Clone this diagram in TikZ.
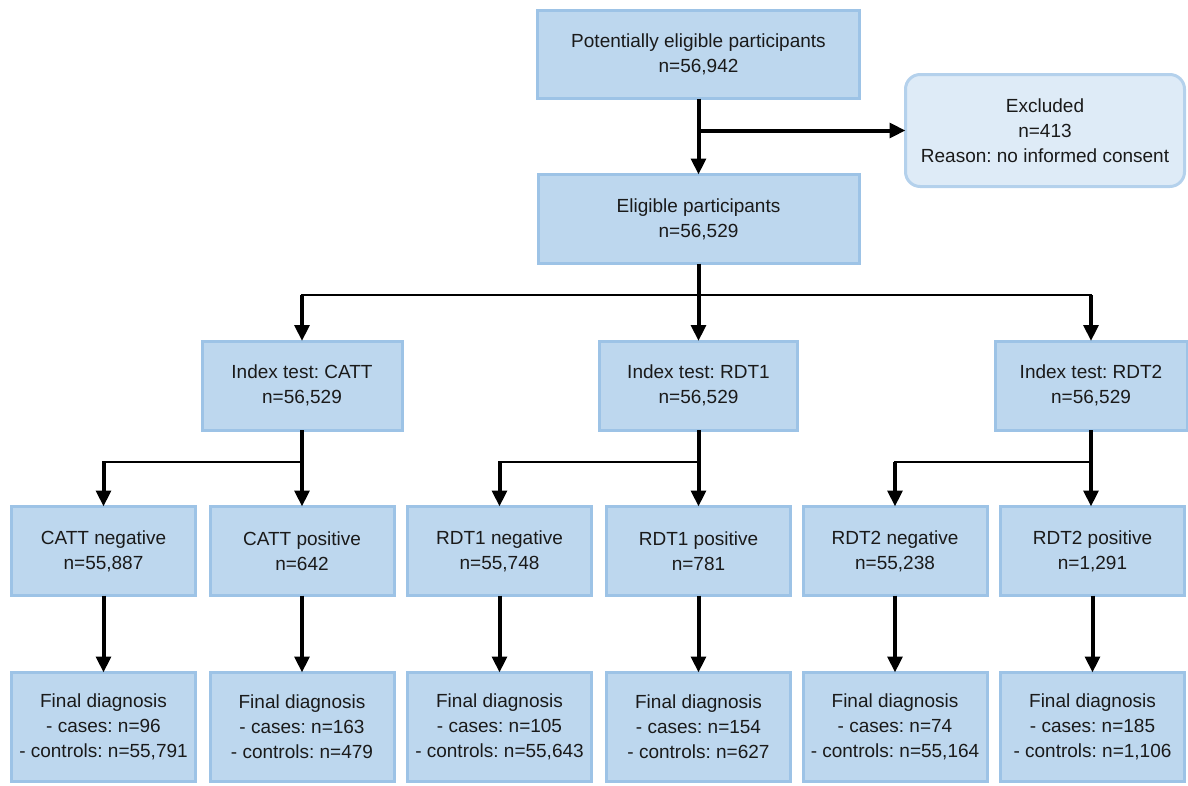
\documentclass[tikz,border=0pt]{standalone}
\usepackage{fontspec}
\setmainfont{Liberation Sans}
\usetikzlibrary{arrows.meta}
\definecolor{boxfill}{HTML}{BDD7EE}
\definecolor{boxline}{HTML}{9DC3E6}
\definecolor{exfill}{HTML}{DEEBF7}
\definecolor{exline}{HTML}{B4D1EC}
\definecolor{ink}{HTML}{1A1A1A}
\frenchspacing
\begin{document}
\begin{tikzpicture}[x=0.75pt,y=-0.75pt,
  every node/.style={font=\fontsize{14.25pt}{18.75pt}\selectfont, text=ink,
    align=center, inner sep=0pt, outer sep=0pt},
  stagebox/.style={draw=boxline, fill=boxfill, line width=2.25pt},
  exbox/.style={draw=exline, fill=exfill, line width=2.25pt, rounded corners=11pt},
  stem/.style={line width=3pt, -{Triangle[length=12pt,width=11pt]}},
  bar/.style={line width=1.6pt, line cap=rect}]
\useasboundingbox (0,0) rectangle (1188,785);

% enrolment
\node[stagebox, minimum width=322*0.75pt, minimum height=88*0.75pt] (top) at (698.5,54.5)
  {Potentially eligible participants\\n=56,942};
\node[exbox, minimum width=279*0.75pt, minimum height=112*0.75pt] (excl) at (1045,130.5)
  {Excluded\\n=413\\Reason: no informed consent};
\node[stagebox, minimum width=321*0.75pt, minimum height=89*0.75pt] (elig) at (698.5,219)
  {Eligible participants\\n=56,529};

% index tests
\node[stagebox, minimum width=200*0.75pt, minimum height=89*0.75pt] (catt) at (302,385.5)
  {Index test: CATT\\n=56,529};
\node[stagebox, minimum width=198*0.75pt, minimum height=89*0.75pt] (rdt1) at (698.5,385.5)
  {Index test: RDT1\\n=56,529};
\node[stagebox, minimum width=192*0.75pt, minimum height=89*0.75pt] (rdt2) at (1091,385.5)
  {Index test: RDT2\\n=56,529};

% test results
\foreach \nm/\cx/\txt in {cattneg/103.5/{CATT negative\\n=55,887},
                          cattpos/302/{CATT positive\\n=642},
                          rdt1neg/499.5/{RDT1 negative\\n=55,748},
                          rdt1pos/698.5/{RDT1 positive\\n=781},
                          rdt2neg/895/{RDT2 negative\\n=55,238},
                          rdt2pos/1092.5/{RDT2 positive\\n=1,291}}
  \node[stagebox, minimum width=184*0.75pt, minimum height=89*0.75pt] (\nm) at (\cx,551) {\txt};

% final diagnosis
\foreach \nm/\cx/\cs/\ct in {cattnegdx/103.5/96/{55,791},
                             cattposdx/302/163/479,
                             rdt1negdx/499.5/105/{55,643},
                             rdt1posdx/698.5/154/627,
                             rdt2negdx/895/74/{55,164},
                             rdt2posdx/1092.5/185/{1,106}}
  \node[stagebox, minimum width=184*0.75pt, minimum height=109*0.75pt] (\nm) at (\cx,727)
    {Final diagnosis\\- cases: n=\cs\\- controls: n=\ct};

% enrolment arrows
\draw[stem] (top.south) -- (elig.north);
\coordinate (exj) at (top.south |- excl.west);
\draw[stem] (exj) -- (excl.west);

% split into the three index tests
\coordinate (sp) at (0,295);
\draw[stem] (elig.south) -- (rdt1.north);
\draw[bar] (catt.north |- sp) -- (rdt2.north |- sp);
\draw[stem] (catt.north |- sp) -- (catt.north);
\draw[stem] (rdt2.north |- sp) -- (rdt2.north);

% split of each index test into negative / positive
\coordinate (sr) at (0,462);
\foreach \ix/\ng/\ps in {catt/cattneg/cattpos, rdt1/rdt1neg/rdt1pos, rdt2/rdt2neg/rdt2pos}{
  \draw[stem] (\ix.south) -- (\ix.south |- \ps.north);
  \draw[bar] (\ix.south |- sr) -- (\ng.north |- sr);
  \draw[stem] (\ng.north |- sr) -- (\ng.north);
}

% results to final diagnosis
\foreach \a/\b in {cattneg/cattnegdx, cattpos/cattposdx, rdt1neg/rdt1negdx,
                   rdt1pos/rdt1posdx, rdt2neg/rdt2negdx, rdt2pos/rdt2posdx}
  \draw[stem] (\a.south) -- (\b.north);
\end{tikzpicture}
\end{document}
